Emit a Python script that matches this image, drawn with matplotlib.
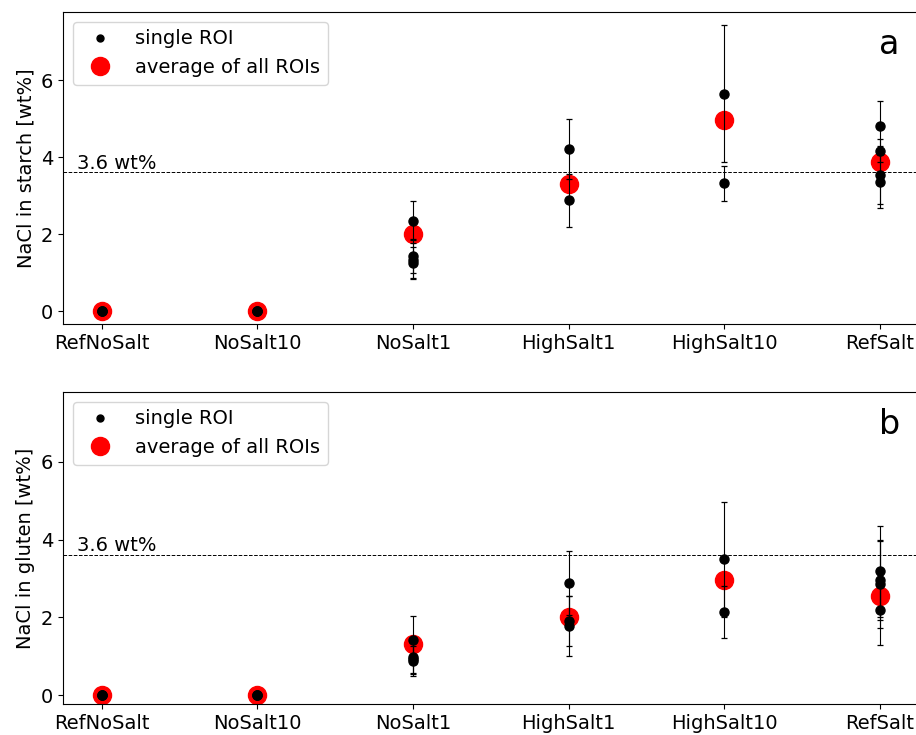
import matplotlib.pyplot as plt
from matplotlib.lines import Line2D

samples = ["RefNoSalt", "NoSalt10", "NoSalt1", "HighSalt1", "HighSalt10", "RefSalt"]

# single ROI values and their errors, per sample (starch)
starch_roi = [
    [0.0, 0.0, 0.0],
    [0.0, 0.0, 0.0],
    [2.35, 1.43, 1.32, 1.25],
    [4.21, 2.88],
    [5.65, 3.32],
    [4.81, 4.16, 3.53, 3.36],
]
starch_err = [
    [0.0, 0.0, 0.0],
    [0.0, 0.0, 0.0],
    [0.50, 0.45, 0.45, 0.42],
    [0.78, 0.69],
    [1.78, 0.46],
    [0.65, 0.30, 0.76, 0.69],
]
starch_avg = [0.0, 0.0, 2.0, 3.3, 4.97, 3.87]

# gluten
gluten_roi = [
    [0.0, 0.0, 0.0],
    [0.0, 0.0, 0.0],
    [1.42, 0.99, 0.93, 0.88],
    [2.88, 1.90, 1.78],
    [3.50, 2.13],
    [3.18, 2.95, 2.86, 2.19],
]
gluten_err = [
    [0.0, 0.0, 0.0],
    [0.0, 0.0, 0.0],
    [0.62, 0.42, 0.40, 0.39],
    [0.83, 0.65, 0.78],
    [1.48, 0.67],
    [1.18, 1.02, 1.14, 0.90],
]
gluten_avg = [0.0, 0.0, 1.32, 2.02, 2.95, 2.55]

reference_line = 3.6

plt.rcParams["font.size"] = 14

fig = plt.figure(figsize=(9.16, 7.35), dpi=100)
ax_top = fig.add_axes([0.0688, 0.559, 0.934, 0.4247])
ax_bot = fig.add_axes([0.0688, 0.0422, 0.934, 0.4245])


def draw_panel(ax, roi, err, avg, ylabel, letter, ylim):
    # red averages below the single ROI points
    ax.plot(range(len(samples)), avg, "o", color="red", markersize=13, zorder=2)
    for i, (vals, errs) in enumerate(zip(roi, err)):
        ax.errorbar([i] * len(vals), vals, yerr=errs, fmt="o", color="black",
                    ecolor="black", elinewidth=0.8, capsize=2, capthick=0.9,
                    markersize=6.5, zorder=3)
    ax.axhline(reference_line, color="black", linestyle="--", linewidth=0.7)
    ax.text(-0.16, reference_line + 0.1, "3.6 wt%", fontsize=14)
    ax.set_xticks(range(len(samples)))
    ax.set_xticklabels(samples)
    ax.set_xlim(-0.25, 5.25)
    ax.set_ylim(*ylim)
    ax.set_yticks([0, 2, 4, 6])
    ax.set_ylabel(ylabel)
    ax.text(0.966, 0.895, letter, transform=ax.transAxes, fontsize=24,
            ha="center", va="center")
    handles = [
        Line2D([], [], marker="o", color="black", linestyle="none", markersize=5),
        Line2D([], [], marker="o", color="red", linestyle="none", markersize=13),
    ]
    ax.legend(handles, ["single ROI", "average of all ROIs"],
              loc="upper left", fontsize=14)


draw_panel(ax_top, starch_roi, starch_err, starch_avg,
           "NaCl in starch [wt%]", "a", (-0.34, 7.77))
draw_panel(ax_bot, gluten_roi, gluten_err, gluten_avg,
           "NaCl in gluten [wt%]", "b", (-0.23, 7.8))

fig.savefig("out.png", dpi=100)
